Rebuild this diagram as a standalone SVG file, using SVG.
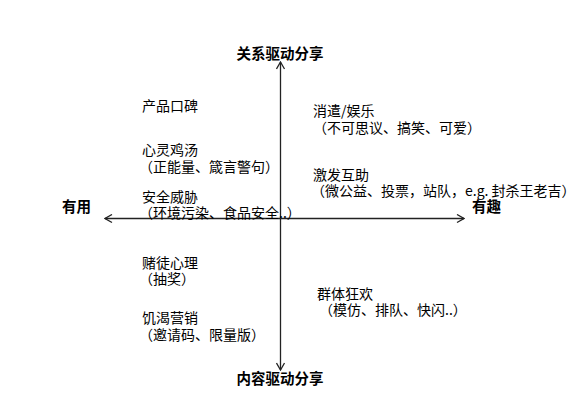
<svg xmlns="http://www.w3.org/2000/svg" width="577" height="403" viewBox="0 0 577 403">
<style>
.t{font-family:"Noto Sans CJK SC","Liberation Sans",sans-serif;font-size:14px;fill:#000}
.b{font-family:"Noto Sans CJK SC","Liberation Sans",sans-serif;font-size:14.5px;font-weight:bold;fill:#000}
.ax{stroke:#222;stroke-width:1.3;fill:none}
</style>
<defs>
<marker id="ah" viewBox="0 0 10 10" refX="9" refY="5" markerWidth="10" markerHeight="10" markerUnits="userSpaceOnUse" orient="auto-start-reverse">
<path d="M2,1 L9,5 L2,9" fill="none" stroke="#222" stroke-width="1.3"/>
</marker>
</defs>
<rect width="577" height="403" fill="#fff"/>
<g id="connectors">
<line class="ax" x1="280.5" y1="370" x2="280.5" y2="62" marker-start="url(#ah)" marker-end="url(#ah)"/>
<line class="ax" x1="105" y1="218.5" x2="464" y2="218.5" marker-start="url(#ah)" marker-end="url(#ah)"/>
</g>
<g id="top-label"><text class="b" x="280" y="59" text-anchor="middle">关系驱动分享</text></g>
<g id="bottom-label"><text class="b" x="280" y="384" text-anchor="middle">内容驱动分享</text></g>
<g id="left-label"><text class="b" x="62" y="212">有用</text></g>
<g id="right-label"><text class="b" x="472" y="212">有趣</text></g>
<g id="n1"><text class="t" x="142" y="111">产品口碑</text></g>
<g id="n2"><text class="t" x="142" y="155">心灵鸡汤</text><text class="t" x="139" y="172">（正能量、箴言警句）</text></g>
<g id="n3"><text class="t" x="142" y="202">安全威胁</text><text class="t" x="139" y="218">（环境污染、食品安全..）</text></g>
<g id="n4"><text class="t" x="313" y="116">消遣/娱乐</text><text class="t" x="313" y="133">（不可思议、搞笑、可爱）</text></g>
<g id="n5"><text class="t" x="313" y="180">激发互助</text><text class="t" x="311" y="196">（微公益、投票，站队，e.g. 封杀王老吉）</text></g>
<g id="n6"><text class="t" x="142" y="268">赌徒心理</text><text class="t" x="139" y="284">（抽奖）</text></g>
<g id="n7"><text class="t" x="142" y="323">饥渴营销</text><text class="t" x="139" y="340">（邀请码、限量版）</text></g>
<g id="n8"><text class="t" x="317" y="299">群体狂欢</text><text class="t" x="319" y="315">（模仿、排队、快闪..）</text></g>
</svg>
